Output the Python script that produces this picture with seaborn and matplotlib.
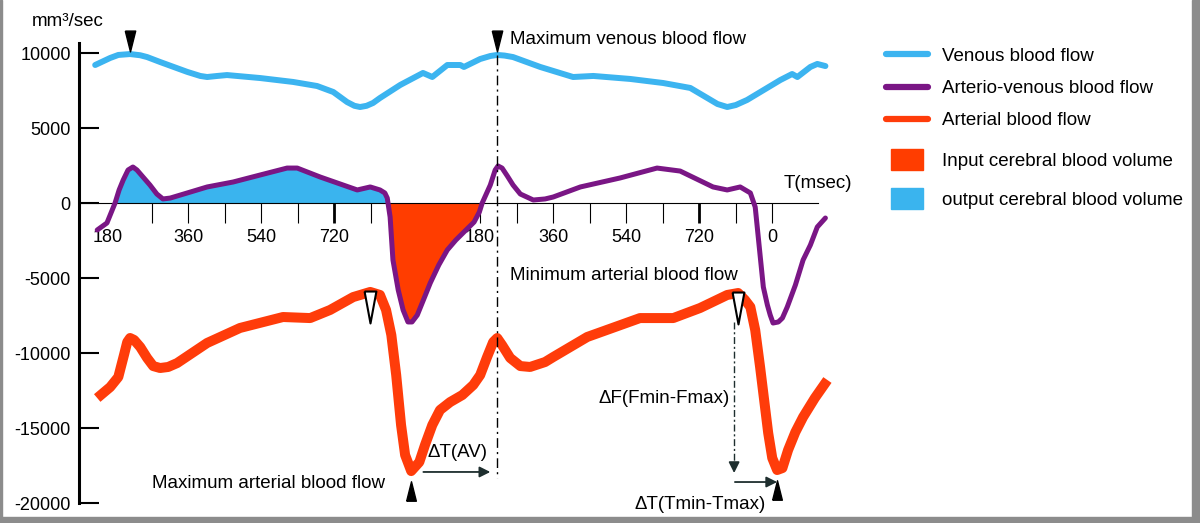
import numpy as np
import seaborn as sns
import matplotlib.pyplot as plt
import matplotlib.transforms as mtransforms
from matplotlib.lines import Line2D
from matplotlib.patches import Patch, Rectangle
from matplotlib.legend_handler import HandlerPatch

# Time runs over two heart cycles (msec), second cycle starts at 900
cycle = 900

# Venous blood flow (mm3/sec)
venous_t = [131, 168, 188, 217, 242, 259, 291, 358, 390, 407, 432, 456, 538, 619, 678, 718, 752,
            770, 784, 800, 816, 833, 883, 939, 962, 999, 1031, 1040, 1080, 1105, 1122, 1140, 1161,
            1228, 1309, 1359, 1450, 1531, 1598, 1640, 1665, 1689, 1710, 1738, 1820, 1849, 1862,
            1894, 1911, 1931]
venous_v = [9200, 9670, 9870, 9930, 9850, 9730, 9400, 8740, 8470, 8400, 8470, 8530, 8330, 8070, 7800,
            7400, 6730, 6480, 6400, 6480, 6670, 7000, 7870, 8670, 8400, 9200, 9200, 9070, 9600, 9800,
            9870, 9830, 9730, 9070, 8400, 8470, 8270, 8000, 7670, 7000, 6600, 6400, 6530, 6870, 8200,
            8600, 8400, 9070, 9270, 9130]

# Arterio-venous blood flow
av_t = [136, 160, 180, 190, 200, 212, 224, 234, 249, 266, 283, 298, 316, 358, 407, 471, 538, 604,
        629, 686, 777, 809, 833, 845, 851, 858, 865, 878, 890, 902, 912, 925, 940, 957, 978, 999,
        1020, 1045, 1065, 1078, 1085, 1105, 1117, 1124, 1134, 1147, 1161, 1179, 1211, 1240, 1260,
        1327, 1425, 1516, 1573, 1654, 1689, 1721, 1746, 1758, 1763, 1770, 1778, 1788, 1795, 1802,
        1815, 1825, 1837, 1857, 1876, 1894, 1911, 1931]
av_v = [-1800, -1330, 0, 870, 1530, 2200, 2400, 2200, 1730, 1200, 600, 270, 330, 670, 1070, 1400,
        1870, 2330, 2330, 1730, 870, 1070, 870, 670, 330, -930, -3800, -5800, -7130, -7930, -7930,
        -7470, -6470, -5330, -4130, -3130, -2470, -1800, -1270, -600, 0, 1200, 2200, 2470, 2330,
        1800, 1200, 600, 200, 270, 400, 1070, 1670, 2330, 2130, 1070, 870, 1070, 670, -270, -1600,
        -3470, -5600, -6800, -7470, -8000, -7930, -7670, -6930, -5470, -3800, -2800, -1600, -1000]

# Arterial blood flow
art_t = [136, 168, 188, 202, 210, 217, 227, 242, 259, 274, 291, 311, 333, 407, 488, 594, 661, 710,
         767, 809, 833, 848, 861, 873, 885, 895, 910, 930, 944, 962, 981, 1006, 1036, 1063,
         1080, 1097, 1112, 1122, 1134, 1154, 1179, 1203, 1240, 1260, 1344, 1474, 1556, 1622, 1689,
         1716, 1733, 1746, 1758, 1770, 1780, 1790, 1800, 1812, 1825, 1839, 1857, 1876, 1905, 1936]
art_v = [-13000, -12270, -11600, -10130, -9270, -9000, -9130, -9600, -10330, -10870, -11000, -10930,
         -10670, -9330, -8330, -7600, -7670, -7130, -6270, -5930, -6130, -7130, -8800, -11470, -14800,
         -16800, -17870, -17270, -16130, -14800, -13800, -13270, -12800, -12130, -11470,
         -10270, -9270, -9000, -9470, -10330, -10870, -10930, -10600, -10270, -8930, -7670, -7670,
         -7000, -6130, -6000, -6470, -6930, -8470, -10930, -13130, -15330, -17000, -17800, -17670,
         -16470, -15270, -14270, -13000, -11800]

# Axis ticks
xtick_pos = [180, 360, 540, 720, 900, 1080, 1260, 1440, 1620, 1800]
xtick_labels = [str(t % cycle) for t in xtick_pos]
xminor_pos = [270, 450, 630, 810, 990, 1170, 1350, 1530, 1710]
ytick_pos = [10000, 5000, 0, -5000, -10000, -15000, -20000]
ytick_labels = [str(v) for v in ytick_pos]

line_labels = ['Venous blood flow', 'Arterio-venous blood flow', 'Arterial blood flow']
area_labels = ['Input cerebral blood volume', 'output cerebral blood volume']

c_ven = '#3cb4f0'
c_av = '#7a1685'
c_art = '#ff3c0a'
c_in = '#ff3d00'
c_out = '#3ab4ee'
c_arrow = '#1e2e2e'

sns.set_theme(style='white', rc={'axes.edgecolor': 'black', 'text.color': 'black',
                                 'xtick.color': 'black', 'ytick.color': 'black'})
plt.rcParams['font.family'] = ['Liberation Sans', 'DejaVu Sans']

fig = plt.figure(figsize=(12, 5.23), dpi=100)
ax = fig.add_axes([0.0658, 0.0382, 0.6342, 0.9465])
ax.set_xlim(91, 1967)
ax.set_ylim(-20000, 13000)

# Filled blood volumes between the arterio-venous curve and zero
t = np.array(av_t)
v = np.array(av_v)
ax.fill_between(t, v, 0, where=(v > 0) & (t < cycle), interpolate=True, color=c_out, lw=0, zorder=1)
ax.fill_between(t, v, 0, where=(v < 0) & (t > 800) & (t < 1100), interpolate=True, color=c_in, lw=0, zorder=1)

# The three flow curves
sns.lineplot(x=venous_t, y=venous_v, ax=ax, color=c_ven, lw=4.3, sort=False, estimator=None,
             solid_joinstyle='round', zorder=3)
sns.lineplot(x=av_t, y=av_v, ax=ax, color=c_av, lw=3.6, sort=False, estimator=None,
             solid_joinstyle='round', zorder=3)
sns.lineplot(x=art_t, y=art_v, ax=ax, color=c_art, lw=7.2, sort=False, estimator=None,
             solid_joinstyle='round', solid_capstyle='butt', zorder=3)

# Spines: zero line as x axis, thick y axis
sns.despine(ax=ax)
ax.spines['bottom'].set_position(('data', 0))
ax.spines['bottom'].set_linewidth(0.8)
ax.spines['bottom'].set_bounds(91, 1913)
ax.spines['left'].set_linewidth(2.2)
ax.spines['left'].set_bounds(-20000, 10700)

ax.set_yticks(ytick_pos, labels=ytick_labels)
ax.tick_params(axis='y', left=True, direction='in', length=14.4, width=1.5, labelsize=13, pad=6)
ax.set_xticks(xtick_pos, labels=xtick_labels)
ax.set_xticks(xminor_pos, minor=True)
ax.tick_params(axis='x', which='both', bottom=True, direction='out', length=14.4, width=0.8,
               labelsize=13, pad=4)
ticks = ax.xaxis.get_major_ticks()
ticks[0].tick1line.set_visible(False)
# first label sits a little left of its (hidden) tick
lbl = ticks[0].label1
lbl.set_transform(lbl.get_transform() + mtransforms.ScaledTranslation(-0.07, 0, fig.dpi_scale_trans))
for i in (3, 8):
    ticks[i].tick1line.set_markeredgewidth(2)


def peak(ts, vs, lo, hi, fn):
    ts = np.array(ts)
    vs = np.array(vs)
    m = (ts >= lo) & (ts < hi)
    i = fn(vs[m])
    return ts[m][i], vs[m][i]


ven1 = peak(venous_t, venous_v, 0, cycle, np.argmax)
ven2 = peak(venous_t, venous_v, cycle, 2000, np.argmax)
amax1 = peak(art_t, art_v, 0, 1350, np.argmax)
amax2 = peak(art_t, art_v, 1350, 2000, np.argmax)
amin1 = peak(art_t, art_v, 0, 1350, np.argmin)
amin2 = peak(art_t, art_v, 1350, 2000, np.argmin)

tri_down = [(-0.5, 1), (0.5, 1), (0, -1), (-0.5, 1)]
tri_slim = [(-0.37, 1), (0.37, 1), (0, -1), (-0.37, 1)]
tri_up = [(-0.5, -1), (0.5, -1), (0, 1), (-0.5, -1)]

ax.plot([ven1[0], ven2[0]], [ven1[1] + 900, ven2[1] + 900], ls='none', marker=tri_down, ms=15,
        color='black', clip_on=False, zorder=5)
ax.plot([amax1[0], amax2[0]], [amax1[1] - 1000, amax2[1] - 1000], ls='none', marker=tri_slim, ms=23,
        mfc='white', mec='black', mew=1.5, zorder=5)
ax.plot([amin1[0], amin2[0]], [amin1[1] - 1330, amin2[1] - 1330], ls='none', marker=tri_up, ms=14,
        color='black', zorder=5)

# Dash-dot line at maximum venous flow
ax.plot([ven2[0], ven2[0]], [ven2[1], -18300], color='black', lw=1, ls=(0, (7, 3, 1.5, 3)), zorder=4)

# Delta arrows
arrow = dict(arrowstyle='-|>', color=c_arrow, lw=1.3, mutation_scale=16, shrinkA=0, shrinkB=0)
ax.annotate('', xy=(ven2[0] - 17, -17930), xytext=(amin1[0] + 30, -17930), arrowprops=arrow)
ax.plot([amax2[0] - 10, amax2[0] - 10], [-7900, -17400], color=c_arrow, lw=1, ls=(0, (5, 2, 1.5, 2)))
ax.annotate('', xy=(amax2[0] - 10, -18000), xytext=(amax2[0] - 10, -17300), arrowprops=arrow)
ax.annotate('', xy=(amin2[0], -18600), xytext=(amax2[0] - 8, -18600), arrowprops=arrow)

fs = 13.5
ax.text(1154, 10870, 'Maximum venous blood flow', fontsize=fs, va='center')
ax.text(1154, -4800, 'Minimum arterial blood flow', fontsize=fs, va='center')
ax.text(846, -18670, 'Maximum arterial blood flow', fontsize=fs, ha='right', va='center')
ax.text(949, -16600, 'ΔT(AV)', fontsize=fs, va='center')
ax.text(1696, -13000, 'ΔF(Fmin-Fmax)', fontsize=fs, ha='right', va='center')
ax.text(1783, -20130, 'ΔT(Tmin-Tmax)', fontsize=fs, ha='right', va='center', clip_on=False)
ax.text(-25, 12130, 'mm³/sec', fontsize=fs, va='center', clip_on=False)
ax.text(1827, 1330, 'T(msec)', fontsize=fs, va='center')


# Legend: flow lines and blood volume boxes
def small_box(legend, orig_handle, xdescent, ydescent, width, height, fontsize):
    return Rectangle((-xdescent + 0.12 * width, -ydescent - 0.3 * height), 0.76 * width, 1.6 * height)


line_handles = [Line2D([], [], color=c, lw=4.5) for c in (c_ven, c_av, c_art)]
area_handles = [Patch(color=c_in), Patch(color=c_out)]
leg_kw = dict(loc='upper left', frameon=False, fontsize=fs, handlelength=2.24, handletextpad=0.75,
              borderpad=0, borderaxespad=0)
fig.legend(line_handles, line_labels, bbox_to_anchor=(0.738, 0.9085), labelspacing=0.8, **leg_kw)
fig.legend(area_handles, area_labels, bbox_to_anchor=(0.738, 0.7075), labelspacing=1.15,
           handler_map={Patch: HandlerPatch(patch_func=small_box)}, **leg_kw)

# Grey frame of the original picture
grey = '#8c8c8c'
fig.add_artist(Rectangle((0, 0), 2 / 1200, 1, transform=fig.transFigure, color=grey))
fig.add_artist(Rectangle((1192 / 1200, 0), 8 / 1200, 1, transform=fig.transFigure, color=grey))
fig.add_artist(Rectangle((0, 0), 1, 6 / 523, transform=fig.transFigure, color=grey))

fig.savefig('out.png', dpi=100)
